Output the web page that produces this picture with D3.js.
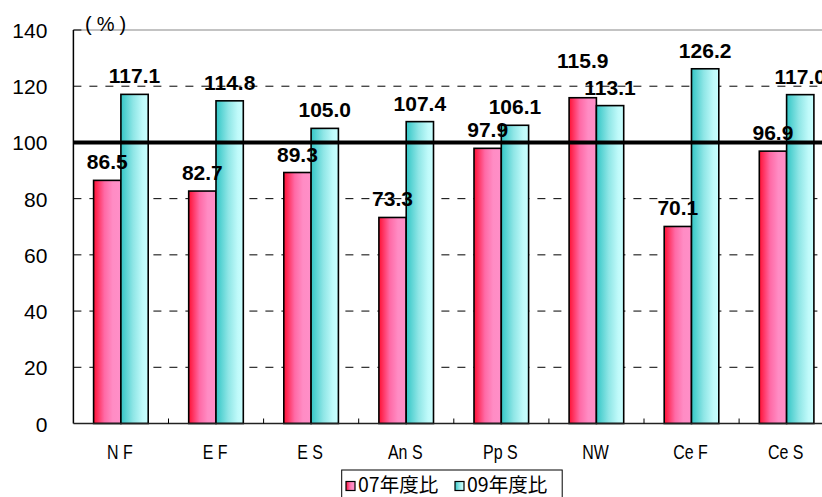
<!DOCTYPE html>
<html><head><meta charset="utf-8">
<script src="https://cdn.jsdelivr.net/npm/d3@7"></script>
<style>
body{margin:0;background:#fff;}
svg{display:block;}
text{font-family:"Liberation Sans",Arial,sans-serif;}
</style></head>
<body>
<svg id="chart" width="822" height="497"></svg>
<script>
const categories = ["N F","E F","E S","An S","Pp S","NW","Ce F","Ce S"];
const seriesNames = ["07年度比","09年度比"];
const values07 = [86.5, 82.7, 89.3, 73.3, 97.9, 115.9, 70.1, 96.9];
const values09 = [117.1, 114.8, 105.0, 107.4, 106.1, 113.1, 126.2, 117.0];
const yTicks = [0,20,40,60,80,100,120,140];
const gridTicks = [20,40,60,80,120];
const refValue = 100;

(function(){
const svg = d3.select("#chart");
const W = 822, H = 497;
const mLeft = 73.4, mTop = 30, mBottom = 423.5;
const step = 95.1;
const plotRight = mLeft + step*categories.length;

const defs = svg.append("defs");
function grad(id, stops){
  const g = defs.append("linearGradient").attr("id",id).attr("x1","0%").attr("x2","100%").attr("y1","0%").attr("y2","0%");
  stops.forEach(s=>g.append("stop").attr("offset",s[0]).attr("stop-color",s[1]));
}
grad("gRed",[[0,"#ff1034"],[0.4,"#ff6aa6"],[0.7,"#ff8cc4"],[1,"#ff8fc8"]]);
grad("gCyan",[[0,"#33c6c6"],[0.45,"#8fe6e6"],[0.8,"#c0fafa"],[1,"#c8ffff"]]);
const fills = ["url(#gRed)","url(#gCyan)"];

const x0 = d3.scaleBand().domain(categories).range([mLeft, plotRight]).padding(0);
const x1 = d3.scaleBand().domain(seriesNames).range([20.2, 74.8]).padding(0);
const y = d3.scaleLinear().domain([0,140]).range([mBottom, mTop]);

// grid lines
svg.append("g").selectAll("line").data(gridTicks).join("line")
  .attr("x1", mLeft).attr("x2", W)
  .attr("y1", d=>y(d)).attr("y2", d=>y(d))
  .attr("stroke","#000").attr("stroke-width",1).attr("stroke-dasharray","8,8");

// top frame
svg.append("line").attr("x1",mLeft).attr("x2",W).attr("y1",y(140)).attr("y2",y(140))
  .attr("stroke","#888").attr("stroke-width",1.2);
svg.append("line").attr("x1",mLeft).attr("x2",mLeft+8).attr("y1",y(140)).attr("y2",y(140))
  .attr("stroke","#000").attr("stroke-width",1);

// bars
const rows = categories.map((c,i)=>({cat:c, vals:[values07[i], values09[i]]}));
const groups = svg.append("g").selectAll("g").data(rows).join("g")
  .attr("transform", d=>`translate(${x0(d.cat)},0)`);
groups.selectAll("rect").data(d=>d.vals.map((v,j)=>({v, s:seriesNames[j], j})))
  .join("rect")
  .attr("x", d=>x1(d.s)).attr("width", x1.bandwidth())
  .attr("y", d=>y(d.v)).attr("height", d=>y(0)-y(d.v))
  .attr("fill", d=>fills[d.j]).attr("stroke","#000").attr("stroke-width",1.6);

// y axis
const yAxis = d3.axisLeft(y).tickValues(yTicks).tickSize(0).tickPadding(26);
const ya = svg.append("g").attr("transform",`translate(${mLeft},0)`).call(yAxis);
ya.select(".domain").remove();
ya.selectAll("text").attr("font-size","21px").attr("fill","#000").attr("dy","0.36em")
  .style("font-family","'Liberation Sans',Arial,sans-serif");
svg.append("line").attr("x1",mLeft).attr("x2",mLeft).attr("y1",y(140)).attr("y2",y(0))
  .attr("stroke","#000").attr("stroke-width",1.5);

// x axis
const xAxis = d3.axisBottom(x0).tickSize(0).tickFormat(()=> "");
const xa = svg.append("g").attr("transform",`translate(0,${y(0)})`).call(xAxis);
xa.select(".domain").remove();
svg.append("line").attr("x1",mLeft).attr("x2",W).attr("y1",y(0)).attr("y2",y(0))
  .attr("stroke","#222").attr("stroke-width",1.5);
svg.append("g").selectAll("line").data(categories.slice(1)).join("line")
  .attr("x1", d=>x0(d)).attr("x2", d=>x0(d))
  .attr("y1", y(0)).attr("y2", y(0)-5)
  .attr("stroke","#000").attr("stroke-width",1);
svg.append("g").selectAll("text").data(categories).join("text")
  .attr("transform", d=>`translate(${x0(d)+x0.bandwidth()/2-1},459) scale(0.76,1)`)
  .attr("text-anchor","middle").attr("font-size","21px").attr("fill","#000")
  .text(d=>d);

// reference line at 100
svg.append("line").attr("x1",mLeft).attr("x2",W).attr("y1",y(refValue)).attr("y2",y(refValue))
  .attr("stroke","#000").attr("stroke-width",4);

// value labels
groups.selectAll("text.val").data(d=>d.vals.map((v,j)=>({v, s:seriesNames[j], j, other:d.vals[1-j]})))
  .join("text").attr("class","val")
  .attr("x", d=>x1(d.s)+x1.bandwidth()/2)
  .attr("y", d=>y(d.v) - 11 - ((d.j===0 && d.v > d.other) ? 19 : 0))
  .attr("text-anchor","middle").attr("font-size","21px").attr("font-weight","bold").attr("fill","#000")
  .text(d=>d3.format(".1f")(d.v));

// unit label
svg.append("text").attr("x",85).attr("y",31).attr("text-anchor","start")
  .attr("font-size","20px").attr("fill","#000").attr("letter-spacing","5px").text("(%)");

// legend
const lg = svg.append("g");
lg.append("rect").attr("x",341.7).attr("y",470).attr("width",220.5).attr("height",32)
  .attr("fill","#fff").attr("stroke","#000").attr("stroke-width",1);
const legX = [346, 455];
seriesNames.forEach((s,i)=>{
  lg.append("rect").attr("x",legX[i]).attr("y",481.5).attr("width",9).attr("height",9)
    .attr("fill",fills[i]).attr("stroke","#000").attr("stroke-width",1.2);
  lg.append("text").attr("x",legX[i]+12).attr("y",491.5).attr("font-size","19.5px")
    .style("font-family","'Noto Sans CJK JP','Liberation Sans',sans-serif")
    .attr("fill","#000").text(s);
});
})();
</script>
</body></html>
